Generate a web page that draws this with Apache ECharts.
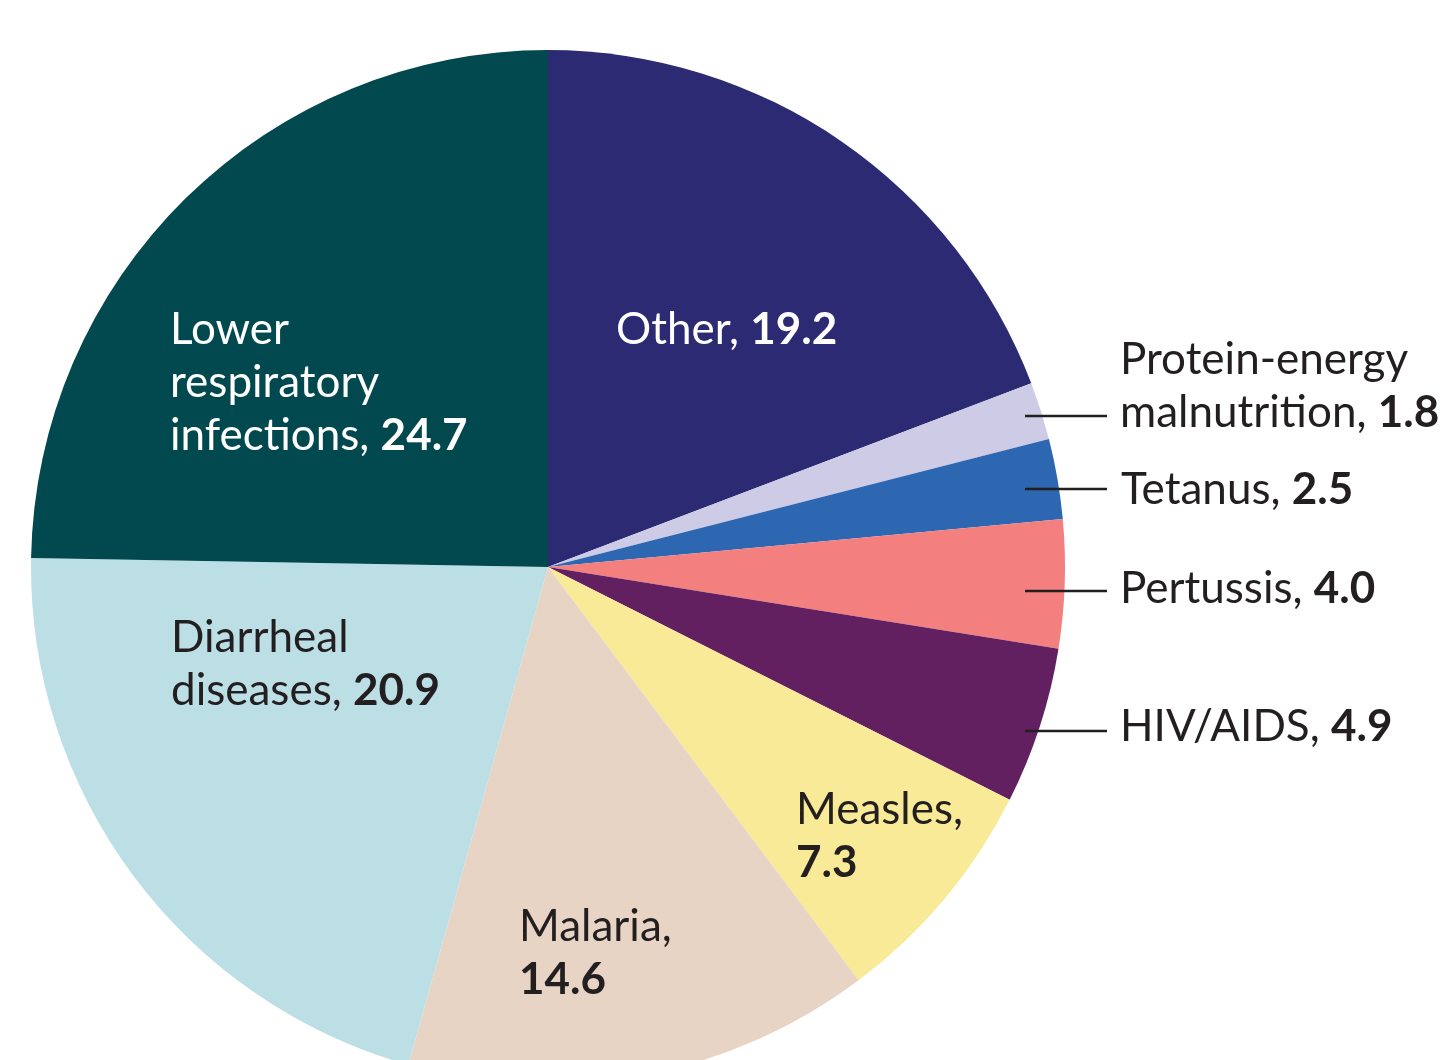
<!DOCTYPE html>
<html>
<head>
<meta charset="utf-8">
<title>Causes of death pie</title>
<script src="https://cdn.jsdelivr.net/npm/echarts@6/dist/echarts.min.js"></script>
<style>
  html, body { margin: 0; padding: 0; background: #fff; }
  #chart { width: 1454px; height: 1060px; }
</style>
</head>
<body>
<div id="chart"></div>
<script>
// data, clockwise from 12 o'clock
const categories = ['Other', 'Protein-energy malnutrition', 'Tetanus', 'Pertussis', 'HIV/AIDS',
  'Measles', 'Malaria', 'Diarrheal diseases', 'Lower respiratory infections'];
const values = [19.2, 1.8, 2.5, 4.0, 4.9, 7.3, 14.6, 20.9, 24.7];
// how each label wraps (value appended after the last line)
const labelText = ['Other, ', 'Protein-energy\nmalnutrition, ', 'Tetanus, ', 'Pertussis, ', 'HIV/AIDS, ',
  'Measles,\n', 'Malaria,\n', 'Diarrheal\ndiseases, ', 'Lower\nrespiratory\ninfections, '];
const colors = ['#2b2a72', '#cdcbe5', '#2e67b1', '#f37f7f', '#632060', '#f9ea98', '#e8d4c4', '#bcdfe6', '#02484f'];

const dark = '#231f20';
const whiteText = [0, 8];
const outside = [1, 2, 3, 4];
// label top-left + leader line y (layout only)
const labelPos = [
  [616, 303], [1120, 333, 416], [1121, 463, 489], [1120, 562, 591], [1120, 700, 731],
  [796, 783], [519, 900], [171, 611], [170, 303]
];

const CENTER = [548, 567];
const RADIUS = 517;

const chart = echarts.init(document.getElementById('chart'));

const fmt = (p) => {
  const lines = labelText[p.dataIndex].split('\n');
  const v = '{v|' + p.value.toFixed(1) + '}';
  return lines.map((l, i) => {
    const t = l ? '{n|' + l + '}' : '';
    return i === lines.length - 1 ? t + v : t;
  }).join('\n');
};

chart.setOption({
  animation: false,
  series: [
    {
      // coloured slices
      type: 'pie',
      center: CENTER,
      radius: RADIUS,
      startAngle: 90,
      clockwise: true,
      silent: true,
      z: 2,
      itemStyle: { borderWidth: 0 },
      label: { show: false },
      labelLine: { show: false },
      data: categories.map((c, i) => ({ name: c, value: values[i], itemStyle: { color: colors[i] } }))
    },
    {
      // transparent overlay carrying the labels, so leader lines sit above the slices
      type: 'pie',
      center: CENTER,
      radius: RADIUS,
      startAngle: 90,
      clockwise: true,
      silent: true,
      z: 3,
      avoidLabelOverlap: false,
      itemStyle: { color: 'rgba(0,0,0,0)', borderWidth: 0 },
      label: {
        formatter: fmt,
        fontFamily: 'Lato',
        fontSize: 44,
        lineHeight: 53,
        rich: {
          n: { fontFamily: 'Lato', fontSize: 44, lineHeight: 53 },
          v: { fontFamily: 'Lato', fontSize: 44, lineHeight: 53, fontWeight: 'bold' }
        }
      },
      labelLine: { lineStyle: { color: dark, width: 2.5 } },
      labelLayout: (params) => {
        const p = labelPos[params.dataIndex];
        const out = { x: p[0], y: p[1], align: 'left', verticalAlign: 'top' };
        if (p[2] !== undefined) {
          out.labelLinePoints = [[1025, p[2]], [1066, p[2]], [1107, p[2]]];
        }
        return out;
      },
      data: categories.map((c, i) => ({
        name: c,
        value: values[i],
        label: {
          position: outside.includes(i) ? 'outside' : 'inside',
          color: whiteText.includes(i) ? '#ffffff' : dark
        },
        labelLine: { show: outside.includes(i) }
      }))
    }
  ]
});
</script>
</body>
</html>
